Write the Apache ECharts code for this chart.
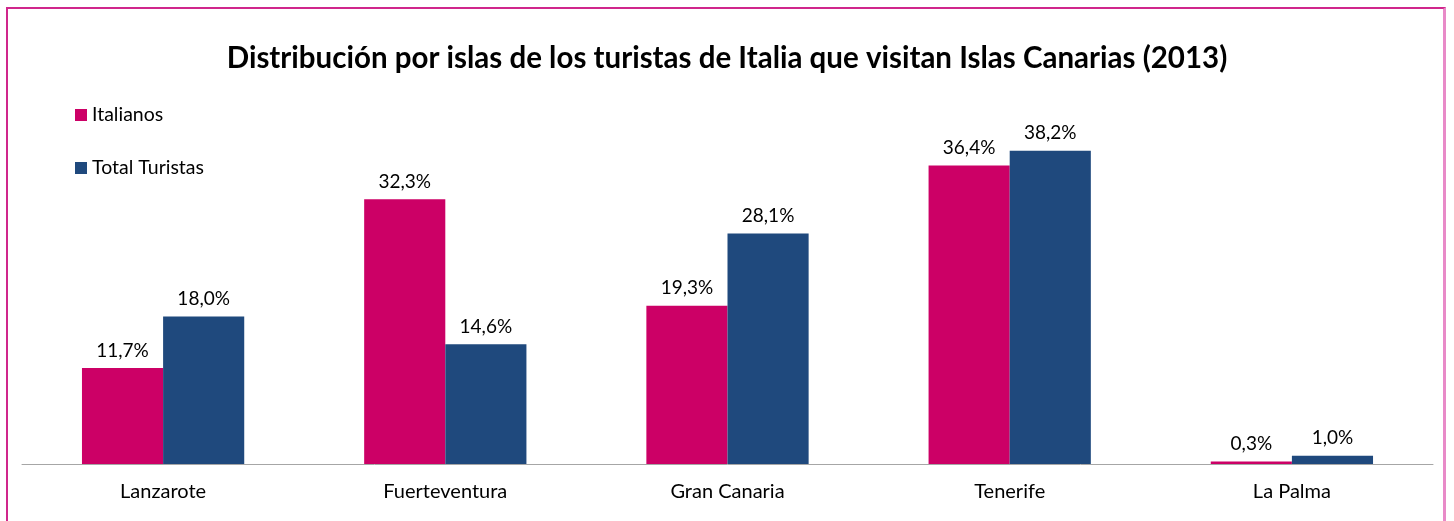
<!DOCTYPE html>
<html>
<head>
<meta charset="utf-8">
<script src="https://cdn.jsdelivr.net/npm/echarts@6/dist/echarts.min.js"></script>
<style>
  html, body { margin: 0; padding: 0; background: #fff; }
  #frame {
    position: absolute; left: 6px; top: 7px; width: 1440px; height: 530px;
    border-top: 2px solid #d0268c; border-left: 2px solid #d0268c;
    border-right: 3px solid #e88ac8; box-sizing: border-box;
  }
  #chart { position: absolute; left: 0; top: 0; width: 1454px; height: 521px; }
</style>
</head>
<body>
<div id="frame"></div>
<div id="chart"></div>
<script>
const islas = ["Lanzarote", "Fuerteventura", "Gran Canaria", "Tenerife", "La Palma"];
const italianos = [11.7, 32.3, 19.3, 36.4, 0.3];
const totalTuristas = [18.0, 14.6, 28.1, 38.2, 1.0];

const fontFam = "Lato, 'Open Sans', sans-serif";
const fmt = (p) => p.value.toFixed(1).replace(".", ",") + "%";

const chart = echarts.init(document.getElementById("chart"));

const option = {
    animation: false,
    title: {
        text: "Distribución por islas de los turistas de Italia que visitan Islas Canarias (2013)",
        left: "center",
        top: 38,
        textStyle: { fontSize: 29.5, fontWeight: "bold", color: "#000", fontFamily: fontFam },
    },
    legend: {
        orient: "vertical",
        left: 70,
        top: 100,
        itemGap: 33,
        itemWidth: 12,
        itemHeight: 12,
        icon: "rect",
        textStyle: { fontSize: 19.5, color: "#000", fontFamily: fontFam },
        data: ["Italianos", "Total Turistas"],
    },
    grid: { left: 22, right: 21, top: 136, bottom: 57 },
    xAxis: {
        type: "category",
        data: islas,
        axisLine: { lineStyle: { color: "#a6a6a6", width: 1 } },
        axisTick: { show: false },
        axisLabel: { fontSize: 20, color: "#000", fontFamily: fontFam, margin: 18 },
    },
    yAxis: {
        type: "value",
        min: 0,
        max: 40,
        show: false,
        splitLine: { show: false },
    },
    series: [
        {
            name: "Italianos",
            type: "bar",
            data: italianos,
            barGap: "0%",
            barCategoryGap: "42.5%",
            itemStyle: { color: "#cc0066" },
            label: { show: true, position: "top", distance: 8, formatter: fmt, fontSize: 19, color: "#000", fontFamily: fontFam },
        },
        {
            name: "Total Turistas",
            type: "bar",
            data: totalTuristas,
            barGap: "0%",
            barCategoryGap: "42.5%",
            itemStyle: { color: "#1f497d" },
            label: { show: true, position: "top", distance: 8, formatter: fmt, fontSize: 19, color: "#000", fontFamily: fontFam },
        },
    ],
};

chart.setOption(option);
</script>
</body>
</html>
